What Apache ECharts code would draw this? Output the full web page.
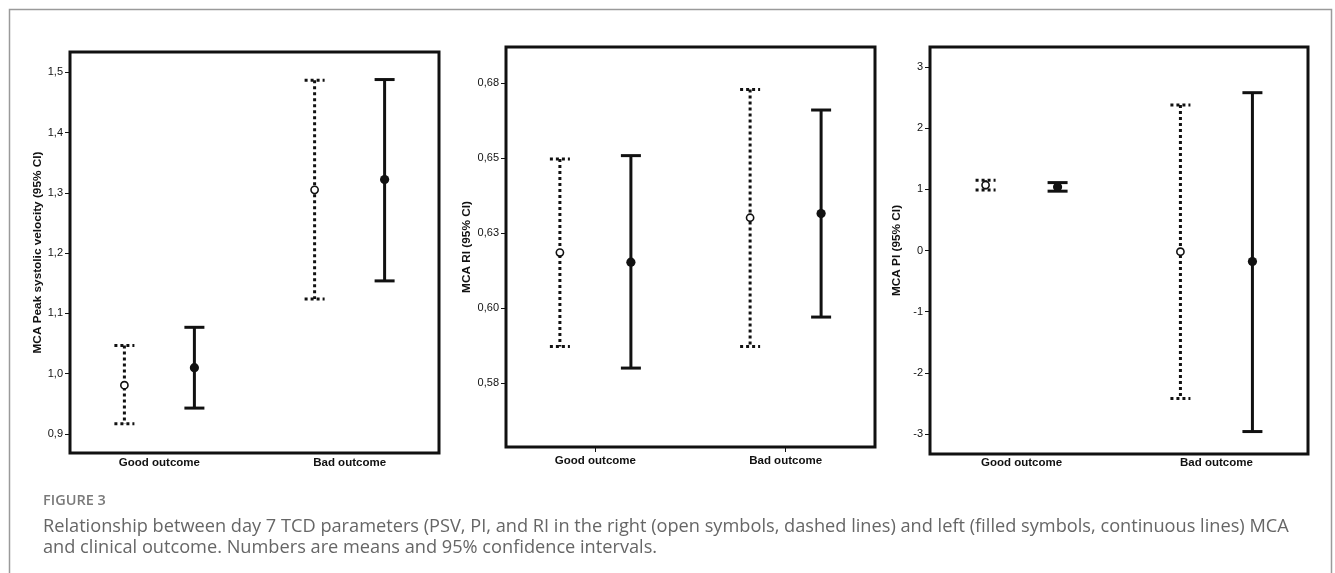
<!DOCTYPE html>
<html>
<head>
<meta charset="utf-8">
<script src="https://cdn.jsdelivr.net/npm/echarts@6/dist/echarts.min.js"></script>
<style>
  html, body { margin: 0; padding: 0; background: #fff; }
  #chart { width: 1335px; height: 573px; }
</style>
</head>
<body>
<div id="chart"></div>
<script>
// categories on the x axis
const categories = ["Good outcome", "Bad outcome"];

// MCA peak systolic velocity - right (open, dashed) / left (filled, solid)
const psvRightMean = [0.981, 1.305];
const psvRightLow = [0.917, 1.124];
const psvRightHigh = [1.047, 1.487];
const psvLeftMean = [1.010, 1.322];
const psvLeftLow = [0.943, 1.154];
const psvLeftHigh = [1.077, 1.488];

// MCA RI
const riRightMean = [0.6185, 0.6301];
const riRightLow = [0.5872, 0.5872];
const riRightHigh = [0.6497, 0.6728];
const riLeftMean = [0.6153, 0.6315];
const riLeftLow = [0.5800, 0.5970];
const riLeftHigh = [0.6508, 0.6660];

// MCA PI
const piRightMean = [1.07, -0.02];
const piRightLow = [0.99, -2.42];
const piRightHigh = [1.15, 2.38];
const piLeftMean = [1.04, -0.18];
const piLeftLow = [0.97, -2.96];
const piLeftHigh = [1.11, 2.58];

// tick values and their labels
const psvTicks = [0.9, 1.0, 1.1, 1.2, 1.3, 1.4, 1.5];
const psvTickLabels = ["0,9", "1,0", "1,1", "1,2", "1,3", "1,4", "1,5"];
const riTicks = [0.575, 0.6, 0.625, 0.65, 0.675];
const riTickLabels = ["0,58", "0,60", "0,63", "0,65", "0,68"];
const piTicks = [-3, -2, -1, 0, 1, 2, 3];
const piTickLabels = ["-3", "-2", "-1", "0", "1", "2", "3"];

const catPos = [0, 1];

function rows(mean, low, high) {
  return catPos.map((c, i) => [c, mean[i], low[i], high[i]]);
}

function labelFor(ticks, labels) {
  return (v) => {
    const i = ticks.findIndex((t) => Math.abs(t - v) < 1e-9);
    return i >= 0 ? labels[i] : "";
  };
}

// error bar + mean marker
function makeRender(offset, open) {
  return function (params, api) {
    const x = api.value(0);
    const pm = api.coord([x, api.value(1)]);
    const pl = api.coord([x, api.value(2)]);
    const ph = api.coord([x, api.value(3)]);
    const cx = pm[0] + offset;
    const half = 10;
    const lineStyle = open
      ? { stroke: "#111", lineWidth: 3, lineDash: [3, 3], lineCap: "butt" }
      : { stroke: "#111", lineWidth: 3 };
    const children = [
      { type: "line", shape: { x1: cx, y1: ph[1], x2: cx, y2: pl[1] }, style: lineStyle },
      { type: "line", shape: { x1: cx - half, y1: ph[1], x2: cx + half, y2: ph[1] }, style: lineStyle },
      { type: "line", shape: { x1: cx - half, y1: pl[1], x2: cx + half, y2: pl[1] }, style: lineStyle },
      open
        ? { type: "circle", shape: { cx: cx, cy: pm[1], r: 3.6 }, style: { fill: "#fff", stroke: "#111", lineWidth: 1.6 } }
        : { type: "circle", shape: { cx: cx, cy: pm[1], r: 4.6 }, style: { fill: "#111" } },
    ];
    return { type: "group", children: children };
  };
}

const chart = echarts.init(document.getElementById("chart"), null, { renderer: "canvas" });

const gridStyle = { show: true, borderColor: "#111", borderWidth: 3, backgroundColor: "transparent" };

function xAxisCfg(idx, showTick, margin) {
  return {
    type: "value",
    gridIndex: idx,
    min: -0.47,
    max: 1.47,
    axisLine: { show: false, onZero: false },
    splitLine: { show: false },
    axisTick: { show: showTick, customValues: catPos, length: 5, lineStyle: { color: "#111", width: 1 } },
    axisLabel: {
      customValues: catPos,
      formatter: (v) => categories[Math.round(v)],
      margin: margin,
      fontFamily: "Liberation Sans, Arial, sans-serif",
      fontSize: 11.5,
      fontWeight: "bold",
      color: "#111",
    },
  };
}

function yAxisCfg(idx, min, max, ticks, labels, name, gap) {
  return {
    type: "value",
    gridIndex: idx,
    min: min,
    max: max,
    name: name,
    nameLocation: "middle",
    nameGap: gap,
    nameTextStyle: { fontFamily: "Liberation Sans, Arial, sans-serif", fontSize: 11.8, fontWeight: "bold", color: "#111" },
    axisLine: { show: false, onZero: false },
    splitLine: { show: false },
    axisTick: { show: true, customValues: ticks, length: 5, lineStyle: { color: "#111", width: 1 } },
    axisLabel: {
      customValues: ticks,
      formatter: labelFor(ticks, labels),
      margin: 7,
      fontFamily: "Liberation Sans, Arial, sans-serif",
      fontSize: 11,
      color: "#111",
    },
  };
}

function series(idx, data, offset, open) {
  return {
    type: "custom",
    xAxisIndex: idx,
    yAxisIndex: idx,
    renderItem: makeRender(offset, open),
    encode: { x: 0, y: [1, 2, 3] },
    data: data,
    silent: true,
  };
}

const option = {
  animation: false,
  grid: [
    Object.assign({ left: 70, top: 52, width: 369, height: 401 }, gridStyle),
    Object.assign({ left: 506, top: 47, width: 369, height: 400 }, gridStyle),
    Object.assign({ left: 930, top: 47, width: 378, height: 407 }, gridStyle),
  ],
  xAxis: [xAxisCfg(0, false, 4), xAxisCfg(1, true, 8), xAxisCfg(2, false, 3)],
  yAxis: [
    yAxisCfg(0, 0.8685, 1.5337, psvTicks, psvTickLabels, "MCA Peak systolic velocity (95% CI)", 26),
    yAxisCfg(1, 0.5537, 0.6870, riTicks, riTickLabels, "MCA RI (95% CI)", 33),
    yAxisCfg(2, -3.327, 3.327, piTicks, piTickLabels, "MCA PI (95% CI)", 27),
  ],
  series: [
    series(0, rows(psvRightMean, psvRightLow, psvRightHigh), -35, true),
    series(0, rows(psvLeftMean, psvLeftLow, psvLeftHigh), 35, false),
    series(1, rows(riRightMean, riRightLow, riRightHigh), -35.5, true),
    series(1, rows(riLeftMean, riLeftLow, riLeftHigh), 35.5, false),
    series(2, rows(piRightMean, piRightLow, piRightHigh), -36, true),
    series(2, rows(piLeftMean, piLeftLow, piLeftHigh), 36, false),
  ],
  graphic: [
    {
      type: "rect",
      shape: { x: 9.5, y: 9.5, width: 1322, height: 700 },
      style: { fill: "none", stroke: "#9a9a9a", lineWidth: 1.5 },
      silent: true,
    },
    {
      type: "text",
      left: 43,
      top: 493,
      style: { text: "FIGURE 3", font: "600 14.5px 'Open Sans', sans-serif", fill: "#7a7a7a" },
    },
    {
      type: "text",
      left: 43,
      top: 518,
      style: {
        text: "Relationship between day 7 TCD parameters (PSV, PI, and RI in the right (open symbols, dashed lines) and left (filled symbols, continuous lines) MCA",
        font: "18.2px 'Open Sans', sans-serif",
        fill: "#666",
      },
    },
    {
      type: "text",
      left: 43,
      top: 539,
      style: {
        text: "and clinical outcome. Numbers are means and 95% confidence intervals.",
        font: "18.2px 'Open Sans', sans-serif",
        fill: "#666",
      },
    },
  ],
};

chart.setOption(option);
</script>
</body>
</html>
